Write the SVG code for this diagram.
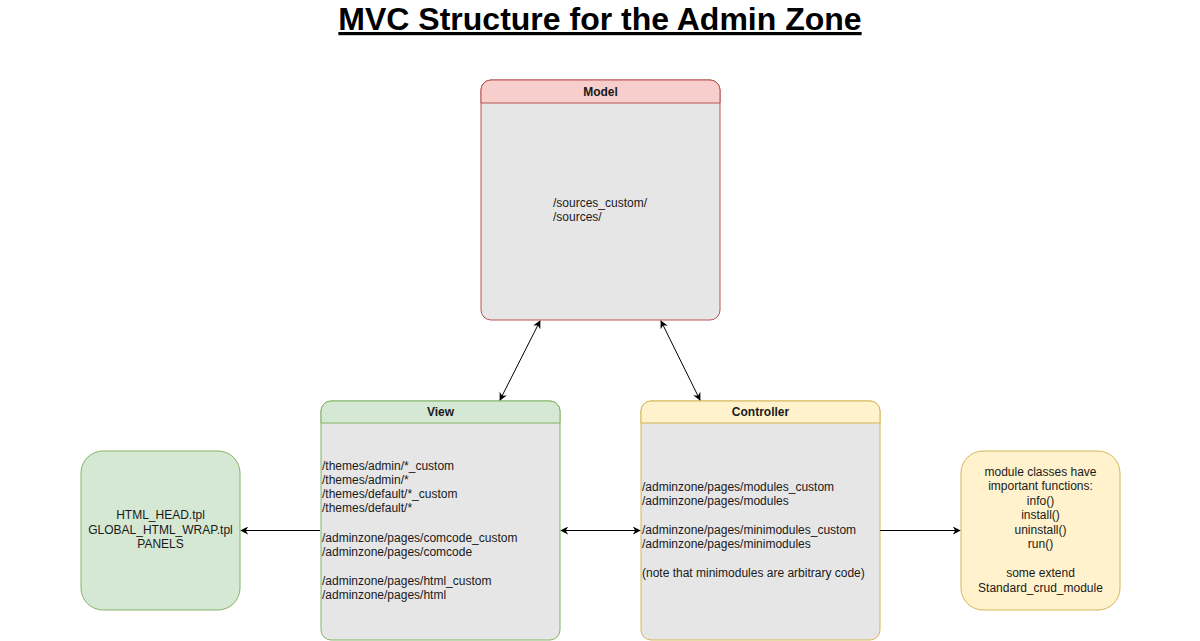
<svg xmlns="http://www.w3.org/2000/svg" width="1200" height="641" viewBox="0 0 1200 641">
<style>
text{font-family:"Liberation Sans",Arial,sans-serif;font-size:12px;fill:#1a1a1a}
.hd{font-weight:bold;text-anchor:middle}
.c{text-anchor:middle}
.body{fill:#e6e6e6}
.conn{stroke:#000;stroke-width:1;fill:none}
</style>
<defs>
<marker id="ah" viewBox="0 0 10 10" refX="9" refY="5" markerWidth="8" markerHeight="8" orient="auto-start-reverse" markerUnits="userSpaceOnUse">
<path d="M0,0 L10,5 L0,10 L3,5 Z" fill="#000"/>
</marker>
</defs>
<rect width="1200" height="641" fill="#fff"/>
<text x="600" y="30" text-anchor="middle" style="font-size:32px;font-weight:bold;text-decoration:underline;fill:#000">MVC Structure for the Admin Zone</text>

<g id="model">
<rect x="481" y="80" width="239" height="240" rx="10" class="body" stroke="#b85450"/>
<path d="M481,103 V90 A10,10 0 0 1 491,80 H710 A10,10 0 0 1 720,90 V103 Z" fill="#f8cecc" stroke="#b85450"/>
<text x="600.5" y="95.5" class="hd">Model</text>
<text x="553" y="207">/sources_custom/</text>
<text x="553" y="221">/sources/</text>
</g>

<g id="view">
<rect x="321" y="401" width="239" height="239" rx="10" class="body" stroke="#82b366"/>
<path d="M321,423 V411 A10,10 0 0 1 331,401 H550 A10,10 0 0 1 560,411 V423 Z" fill="#d5e8d4" stroke="#82b366"/>
<text x="440.5" y="416" class="hd">View</text>
<text x="322" y="470">/themes/admin/*_custom</text>
<text x="322" y="484">/themes/admin/*</text>
<text x="322" y="498">/themes/default/*_custom</text>
<text x="322" y="512">/themes/default/*</text>
<text x="322" y="542">/adminzone/pages/comcode_custom</text>
<text x="322" y="556">/adminzone/pages/comcode</text>
<text x="322" y="585">/adminzone/pages/html_custom</text>
<text x="322" y="599">/adminzone/pages/html</text>
</g>

<g id="controller">
<rect x="641" y="401" width="239" height="239" rx="10" class="body" stroke="#d6b656"/>
<path d="M641,423 V411 A10,10 0 0 1 651,401 H870 A10,10 0 0 1 880,411 V423 Z" fill="#fff2cc" stroke="#d6b656"/>
<text x="760.5" y="416" class="hd">Controller</text>
<text x="642" y="491">/adminzone/pages/modules_custom</text>
<text x="642" y="505">/adminzone/pages/modules</text>
<text x="642" y="534">/adminzone/pages/minimodules_custom</text>
<text x="642" y="548">/adminzone/pages/minimodules</text>
<text x="642" y="577">(note that minimodules are arbitrary code)</text>
</g>

<g id="templates">
<rect x="81" y="451" width="159" height="159" rx="22" fill="#d5e8d4" stroke="#82b366"/>
<text x="160.5" y="519" class="c">HTML_HEAD.tpl</text>
<text x="160.5" y="534" class="c">GLOBAL_HTML_WRAP.tpl</text>
<text x="160.5" y="548" class="c">PANELS</text>
</g>

<g id="modules">
<rect x="961" y="451" width="159" height="159" rx="22" fill="#fff2cc" stroke="#d6b656"/>
<text x="1040.5" y="476" class="c">module classes have</text>
<text x="1040.5" y="490" class="c">important functions:</text>
<text x="1040.5" y="505" class="c">info()</text>
<text x="1040.5" y="519" class="c">install()</text>
<text x="1040.5" y="534" class="c">uninstall()</text>
<text x="1040.5" y="548" class="c">run()</text>
<text x="1040.5" y="577" class="c">some extend</text>
<text x="1040.5" y="592" class="c">Standard_crud_module</text>
</g>

<g id="connectors">
<line x1="540" y1="321" x2="500" y2="400" class="conn" marker-start="url(#ah)" marker-end="url(#ah)"/>
<line x1="661" y1="321" x2="700" y2="400" class="conn" marker-start="url(#ah)" marker-end="url(#ah)"/>
<line x1="561" y1="530.5" x2="640" y2="530.5" class="conn" marker-start="url(#ah)" marker-end="url(#ah)"/>
<line x1="320" y1="530.5" x2="241" y2="530.5" class="conn" marker-end="url(#ah)"/>
<line x1="880" y1="530.5" x2="960" y2="530.5" class="conn" marker-end="url(#ah)"/>
</g>
</svg>
